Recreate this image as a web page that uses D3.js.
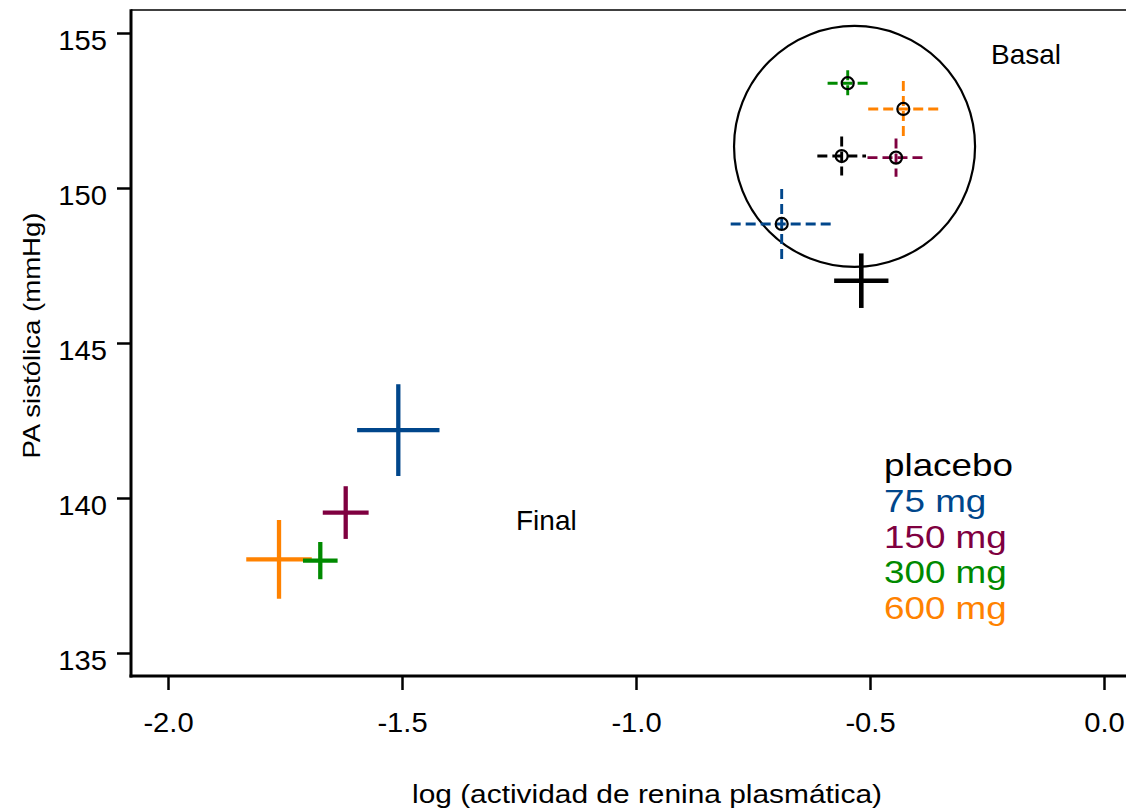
<!DOCTYPE html>
<html>
<head>
<meta charset="utf-8">
<script src="https://cdn.jsdelivr.net/npm/d3@7"></script>
<style>
  html, body { margin: 0; padding: 0; background: #fff; }
  svg { display: block; font-family: "Liberation Sans", Arial, sans-serif; }
</style>
</head>
<body>
<svg id="chart" width="1126" height="812"></svg>
<script>
// ---- data ----
const groups = ["placebo", "75 mg", "150 mg", "300 mg", "600 mg"];
const colors = ["#000000", "#00468b", "#7f0040", "#008a00", "#ff8200"];

const basalX    = [-0.5605, -0.6887, -0.4444, -0.5476, -0.4288];
const basalY    = [151.03, 148.84, 150.98, 153.38, 152.55];
const basalXErr = [0.052, 0.109, 0.061, 0.043, 0.075];
const basalYErr = [0.63, 1.13, 0.62, 0.42, 0.90];

const finalX    = [-0.5186, -1.5079, -1.6203, -1.6746, -1.7628];
const finalY    = [147.01, 142.19, 139.53, 137.98, 138.02];
const finalXErr = [0.058, 0.088, 0.049, 0.037, 0.070];
const finalYErr = [0.88, 1.48, 0.85, 0.60, 1.27];

const circleCenter = [-0.533, 151.34];
const circleRadiusX = 0.2575;

const xTicks = [-2.0, -1.5, -1.0, -0.5, 0.0];
const yTicks = [135, 140, 145, 150, 155];
const xTickLabels = ["-2.0", "-1.5", "-1.0", "-0.5", "0.0"];
const yTickLabels = ["135", "140", "145", "150", "155"];

const xTitle = "log (actividad de renina plasmática)";
const yTitle = "PA sistólica (mmHg)";
const basalLabel = "Basal";
const finalLabel = "Final";

// ---- layout ----
const svg = d3.select("#chart");
const x = d3.scaleLinear().domain([-2, 0]).range([168, 1104]);
const y = d3.scaleLinear().domain([135, 155]).range([653, 33]);
const frame = { left: 131, top: 10, bottom: 676, right: 1140 };

function stretch(sel, f) {
  sel.each(function () {
    const w = this.getComputedTextLength();
    d3.select(this).attr("textLength", w * f).attr("lengthAdjust", "spacingAndGlyphs");
  });
}

// frame
svg.append("line").attr("x1", frame.left).attr("x2", frame.right)
  .attr("y1", frame.top).attr("y2", frame.top)
  .attr("stroke", "#000").attr("stroke-width", 1.6);
svg.append("line").attr("x1", frame.left).attr("x2", frame.left)
  .attr("y1", frame.top - 0.8).attr("y2", frame.bottom + 1.5)
  .attr("stroke", "#000").attr("stroke-width", 3);
svg.append("line").attr("x1", frame.left - 1.5).attr("x2", frame.right)
  .attr("y1", frame.bottom).attr("y2", frame.bottom)
  .attr("stroke", "#000").attr("stroke-width", 3);

// axes
const xAxis = d3.axisBottom(x).tickValues(xTicks).tickSize(14).tickPadding(6)
  .tickFormat((d, i) => xTickLabels[i]);
const gx = svg.append("g").attr("transform", `translate(0,${frame.bottom})`).call(xAxis);
gx.select(".domain").remove();
gx.selectAll(".tick line").attr("stroke", "#000").attr("stroke-width", 2.5);
gx.selectAll(".tick text").attr("font-size", 27).attr("fill", "#000")
  .attr("font-family", "Liberation Sans, Arial, sans-serif")
  .attr("y", 0).attr("dy", 0).attr("transform", "translate(0,56)");
stretch(gx.selectAll(".tick text"), 1.08);

const yAxis = d3.axisLeft(y).tickValues(yTicks).tickSize(14).tickPadding(8)
  .tickFormat((d, i) => yTickLabels[i]);
const gy = svg.append("g").attr("transform", `translate(${frame.left},0)`).call(yAxis);
gy.select(".domain").remove();
gy.selectAll(".tick line").attr("stroke", "#000").attr("stroke-width", 2.5);
gy.selectAll(".tick text").attr("font-size", 27).attr("fill", "#000")
  .attr("font-family", "Liberation Sans, Arial, sans-serif")
  .attr("x", -24).attr("dy", 0).attr("transform", "translate(0,16)");
stretch(gy.selectAll(".tick text"), 1.08);

// axis titles
svg.append("text").attr("x", 647).attr("y", 803).attr("text-anchor", "middle")
  .attr("font-size", 25).attr("textLength", 470).attr("lengthAdjust", "spacingAndGlyphs")
  .text(xTitle);
svg.append("text").attr("transform", "translate(40,335.5) rotate(-90)")
  .attr("text-anchor", "middle").attr("font-size", 24)
  .attr("textLength", 246).attr("lengthAdjust", "spacingAndGlyphs")
  .text(yTitle);

// basal big circle
const cx0 = x(circleCenter[0]), cy0 = y(circleCenter[1]);
const rPx = x(circleCenter[0] + circleRadiusX) - x(circleCenter[0]);
svg.append("circle").attr("cx", cx0).attr("cy", cy0).attr("r", rPx)
  .attr("fill", "none").attr("stroke", "#000").attr("stroke-width", 2.2);

// basal dashed error bars
const gb = svg.append("g");
groups.forEach((g, i) => {
  gb.append("line")
    .attr("x1", x(basalX[i] - basalXErr[i])).attr("x2", x(basalX[i] + basalXErr[i]))
    .attr("y1", y(basalY[i])).attr("y2", y(basalY[i]))
    .attr("stroke", colors[i]).attr("stroke-width", 2.9).attr("stroke-dasharray", "10,5");
  gb.append("line")
    .attr("x1", x(basalX[i])).attr("x2", x(basalX[i]))
    .attr("y1", y(basalY[i] + basalYErr[i])).attr("y2", y(basalY[i] - basalYErr[i]))
    .attr("stroke", colors[i]).attr("stroke-width", 2.9).attr("stroke-dasharray", "10,5");
});
groups.forEach((g, i) => {
  gb.append("circle").attr("cx", x(basalX[i])).attr("cy", y(basalY[i])).attr("r", 6)
    .attr("fill", "none").attr("stroke", "#000").attr("stroke-width", 2.2);
});

// final solid crosses
const gf = svg.append("g");
const order = [4, 3, 2, 1, 0];
order.forEach(i => {
  const w = i === 0 ? 4.6 : 4.3;
  gf.append("line")
    .attr("x1", x(finalX[i] - finalXErr[i])).attr("x2", x(finalX[i] + finalXErr[i]))
    .attr("y1", y(finalY[i])).attr("y2", y(finalY[i]))
    .attr("stroke", colors[i]).attr("stroke-width", w);
  gf.append("line")
    .attr("x1", x(finalX[i])).attr("x2", x(finalX[i]))
    .attr("y1", y(finalY[i] + finalYErr[i])).attr("y2", y(finalY[i] - finalYErr[i]))
    .attr("stroke", colors[i]).attr("stroke-width", w);
});

// annotations
svg.append("text").attr("x", 991).attr("y", 64).attr("font-size", 28)
  .text(basalLabel);
svg.append("text").attr("x", 516).attr("y", 530).attr("font-size", 28)
  .text(finalLabel);

// legend
const gl = svg.append("g");
groups.forEach((g, i) => {
  gl.append("text").attr("x", 884).attr("y", 476 + i * 35.8)
    .attr("font-size", 32).attr("fill", colors[i]).text(g);
});
stretch(gl.selectAll("text"), 1.15);
</script>
</body>
</html>
